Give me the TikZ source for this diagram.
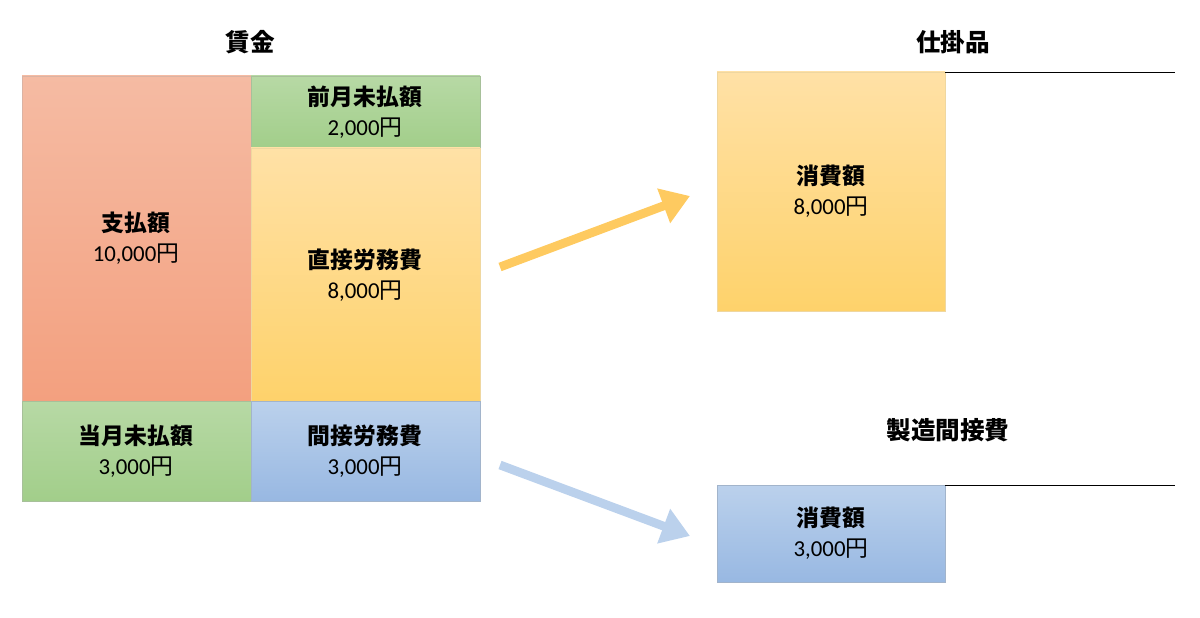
\documentclass[tikz,border=0pt]{standalone}
\usepackage{fontspec}
\setmainfont{Carlito}
\newfontfamily\cjk{Noto Sans CJK JP}
\usetikzlibrary{arrows.meta}
\definecolor{redT}{HTML}{F5BBA3}
\definecolor{redB}{HTML}{F3A07F}
\definecolor{grnT}{HTML}{B7D9A5}
\definecolor{grnB}{HTML}{A2CE8A}
\definecolor{ylwT}{HTML}{FFE1A6}
\definecolor{ylwB}{HTML}{FED26B}
\definecolor{bluT}{HTML}{BBD1EC}
\definecolor{bluB}{HTML}{98B8E2}
\newcommand{\yen}{{\cjk 円}}
\begin{document}
\begin{tikzpicture}[x=0.02cm,y=-0.02cm,
    every node/.style={font=\fontsize{13}{17}\selectfont,align=center},
    title/.style={font=\cjk\bfseries\fontsize{14}{17}\selectfont},
    redbox/.style={top color=redT,bottom color=redB,draw=redB!80!black!60},
    grnbox/.style={top color=grnT,bottom color=grnB,draw=grnB!80!black!70},
    ylwbox/.style={top color=ylwT,bottom color=ylwB,draw=ylwB!90!black!60},
    blubox/.style={top color=bluT,bottom color=bluB,draw=bluB!80!black!70},
    flow/.style={line width=5pt,-{Triangle[length=16pt,width=20pt]}}]
    \useasboundingbox (0,0) rectangle (1200,618);
    % wage account
    \node[title] (wage) at (250,42) {賃金};
    \draw[redbox] (22,76) rectangle (251,401);
    \node (paid) at (136,238) {{\cjk\bfseries 支払額}\\10,000\yen};
    \draw[grnbox] (251,76) rectangle (480,148);
    \node (prev) at (365,112) {{\cjk\bfseries 前月未払額}\\2,000\yen};
    \draw[ylwbox] (251,148) rectangle (480,401);
    \node (direct) at (365,275) {{\cjk\bfseries 直接労務費}\\8,000\yen};
    \draw[grnbox] (22,401) rectangle (251,501);
    \node (curr) at (136,451) {{\cjk\bfseries 当月未払額}\\3,000\yen};
    \draw[blubox] (251,401) rectangle (480,501);
    \node (indirect) at (365,451) {{\cjk\bfseries 間接労務費}\\3,000\yen};
    % work in process
    \node[title] (wip) at (953,42) {仕掛品};
    \draw[ylwbox] (717,72) rectangle (945,311);
    \node (wipamt) at (831,191) {{\cjk\bfseries 消費額}\\8,000\yen};
    \draw (945,72) -- (1175,72);
    % overhead
    \node[title] (ovh) at (948,430) {製造間接費};
    \draw[blubox] (717,485) rectangle (945,582);
    \node (ovhamt) at (831,533) {{\cjk\bfseries 消費額}\\3,000\yen};
    \draw (945,485) -- (1175,485);
    % flows
    \coordinate (a1) at (500,267);
    \coordinate (a2) at (690,196);
    \coordinate (b1) at (500,465);
    \coordinate (b2) at (690,536);
    \draw[flow,draw=ylwB!90!orange] (a1) -- (a2);
    \draw[flow,draw=bluT] (b1) -- (b2);
\end{tikzpicture}
\end{document}
